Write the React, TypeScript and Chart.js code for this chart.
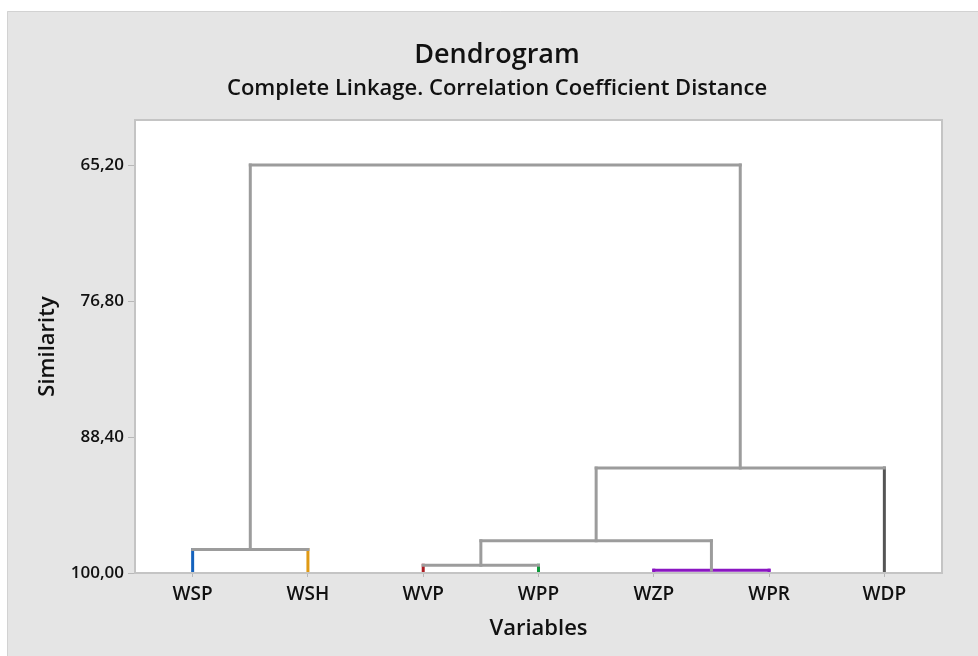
import React, { useEffect, useRef } from 'react';
import { Chart, registerables } from 'chart.js';

Chart.register(...registerables);

// ---- data ----
const leaves = ['WSP', 'WSH', 'WVP', 'WPP', 'WZP', 'WPR', 'WDP'];
const leafColors = ['#1462bd', '#e09a14', '#ad1c22', '#0b9a3a', '#8a16c2', '#8a16c2', '#555555'];
// merges: children (0..6 = leaves, 7.. = earlier merges) and similarity level
const mergeLeft = [4, 2, 0, 8, 10, 9];
const mergeRight = [5, 3, 1, 7, 6, 11];
const mergeSimilarity = [99.76, 99.34, 98.0, 97.25, 91.05, 65.2];
const yTickValues = [65.2, 76.8, 88.4, 100];
const yMin = 61.36;
const yMax = 100;

const linkColor = '#9c9c9c';
const FONT = '"Open Sans", "Noto Sans", sans-serif';
const W = 994;
const H = 656;

type Seg = { pts: { x: number; y: number }[]; color: string };

function buildSegments(): Seg[] {
  const n = leaves.length;
  const nodeX: number[] = leaves.map((_, i) => i);
  const nodeY: number[] = leaves.map(() => yMax);
  const segs: Seg[] = [];
  const vColor = (i: number) => (i < n ? leafColors[i] : linkColor);
  mergeLeft.forEach((l, k) => {
    const r = mergeRight[k];
    const h = mergeSimilarity[k];
    const c = l < n && r < n && leafColors[l] === leafColors[r] ? leafColors[l] : linkColor;
    segs.push({ pts: [{ x: nodeX[l], y: nodeY[l] }, { x: nodeX[l], y: h }], color: vColor(l) });
    segs.push({ pts: [{ x: nodeX[r], y: nodeY[r] }, { x: nodeX[r], y: h }], color: vColor(r) });
    segs.push({ pts: [{ x: nodeX[l], y: h }, { x: nodeX[r], y: h }], color: c });
    nodeX.push((nodeX[l] + nodeX[r]) / 2);
    nodeY.push(h);
  });
  const gray = segs.filter((s) => s.color === linkColor);
  const colored = segs.filter((s) => s.color !== linkColor);
  return [...gray, ...colored];
}

const bgPlugin = {
  id: 'bgPlugin',
  beforeDraw(chart: any) {
    const { ctx, chartArea } = chart;
    ctx.save();
    ctx.fillStyle = '#ffffff';
    ctx.fillRect(0, 0, W, H);
    ctx.fillStyle = '#e5e5e5';
    ctx.fillRect(7, 11, W - 7, H - 11);
    ctx.strokeStyle = '#d2d2d2';
    ctx.lineWidth = 1;
    ctx.beginPath();
    ctx.moveTo(7.5, H);
    ctx.lineTo(7.5, 11.5);
    ctx.lineTo(W, 11.5);
    ctx.stroke();
    ctx.fillStyle = '#ffffff';
    ctx.fillRect(chartArea.left, chartArea.top, chartArea.right - chartArea.left, chartArea.bottom - chartArea.top);
    ctx.restore();
  },
  afterDraw(chart: any) {
    const { ctx, chartArea } = chart;
    ctx.save();
    ctx.strokeStyle = '#c4c4c4';
    ctx.lineWidth = 2;
    ctx.strokeRect(chartArea.left, chartArea.top, chartArea.right - chartArea.left, chartArea.bottom - chartArea.top);
    ctx.restore();
  },
};

export default function App() {
  const ref = useRef<HTMLCanvasElement | null>(null);
  useEffect(() => {
    if (!ref.current) return;
    const segs = buildSegments();
    const chart = new Chart(ref.current, {
      type: 'line',
      data: {
        datasets: segs.map((s) => ({
          data: s.pts,
          borderColor: s.color,
          backgroundColor: s.color,
          borderWidth: 3,
          pointRadius: 0,
          borderCapStyle: 'square',
          borderJoinStyle: 'miter',
          fill: false,
          tension: 0,
        })),
      },
      options: {
        responsive: false,
        animation: false,
        layout: { padding: 0 },
        plugins: {
          legend: { display: false },
          tooltip: { enabled: false },
          title: {
            display: true,
            text: 'Dendrogram',
            color: '#111111',
            font: { family: FONT, size: 27, weight: '600', lineHeight: 1.2 },
            padding: { top: 38.8, bottom: 0 },
          },
          subtitle: {
            display: true,
            text: 'Complete Linkage. Correlation Coefficient Distance',
            color: '#111111',
            font: { family: FONT, size: 22, weight: '600', lineHeight: 1.2 },
            padding: { top: 4.6, bottom: 17.8 },
          },
        },
        scales: {
          x: {
            type: 'linear',
            min: -0.5,
            max: leaves.length - 0.5,
            afterBuildTicks: (s: any) => {
              s.ticks = leaves.map((_, i) => ({ value: i }));
            },
            afterFit: (s: any) => {
              s.height = H - 573;
            },
            ticks: {
              autoSkip: false,
              maxRotation: 0,
              padding: 6,
              color: '#111111',
              font: { family: FONT, size: 19, weight: '600', lineHeight: 1.2 },
              callback: (v: any) => leaves[Math.round(Number(v))] ?? '',
            },
            grid: { drawOnChartArea: false, drawTicks: true, tickLength: 4, color: '#b8b8b8', lineWidth: 1 },
            border: { display: false },
            title: {
              display: true,
              text: 'Variables',
              color: '#111111',
              font: { family: FONT, size: 22, weight: '600', lineHeight: 1.2 },
              padding: { top: 0, bottom: 14.5 },
            },
          },
          y: {
            type: 'linear',
            min: yMin,
            max: yMax,
            reverse: true,
            afterBuildTicks: (s: any) => {
              s.ticks = yTickValues.map((v) => ({ value: v }));
            },
            afterFit: (s: any) => {
              s.width = 135;
            },
            ticks: {
              padding: 4,
              color: '#111111',
              font: { family: FONT, size: 17, weight: '600', lineHeight: 1.2 },
              callback: (v: any) => Number(v).toFixed(2).replace('.', ','),
            },
            grid: { drawOnChartArea: false, drawTicks: true, tickLength: 7, color: '#b8b8b8', lineWidth: 1 },
            border: { display: false },
            title: {
              display: true,
              text: 'Similarity',
              color: '#111111',
              font: { family: FONT, size: 22, weight: '600', lineHeight: 1.2 },
              padding: { top: 34.8, bottom: 0 },
            },
          },
          yRightSpacer: {
            type: 'linear',
            position: 'right',
            display: true,
            min: yMin,
            max: yMax,
            ticks: { display: false },
            grid: { display: false, drawTicks: false },
            border: { display: false },
            afterFit: (s: any) => {
              s.width = W - 942;
            },
          },
        },
      },
      plugins: [bgPlugin],
    } as any);
    return () => chart.destroy();
  }, []);
  return (
    <div style={{ position: 'absolute', left: 0, top: 0, width: 978, height: H, overflow: 'hidden' }}>
      <canvas ref={ref} width={W} height={H} style={{ display: 'block', width: W, height: H }} />
    </div>
  );
}
